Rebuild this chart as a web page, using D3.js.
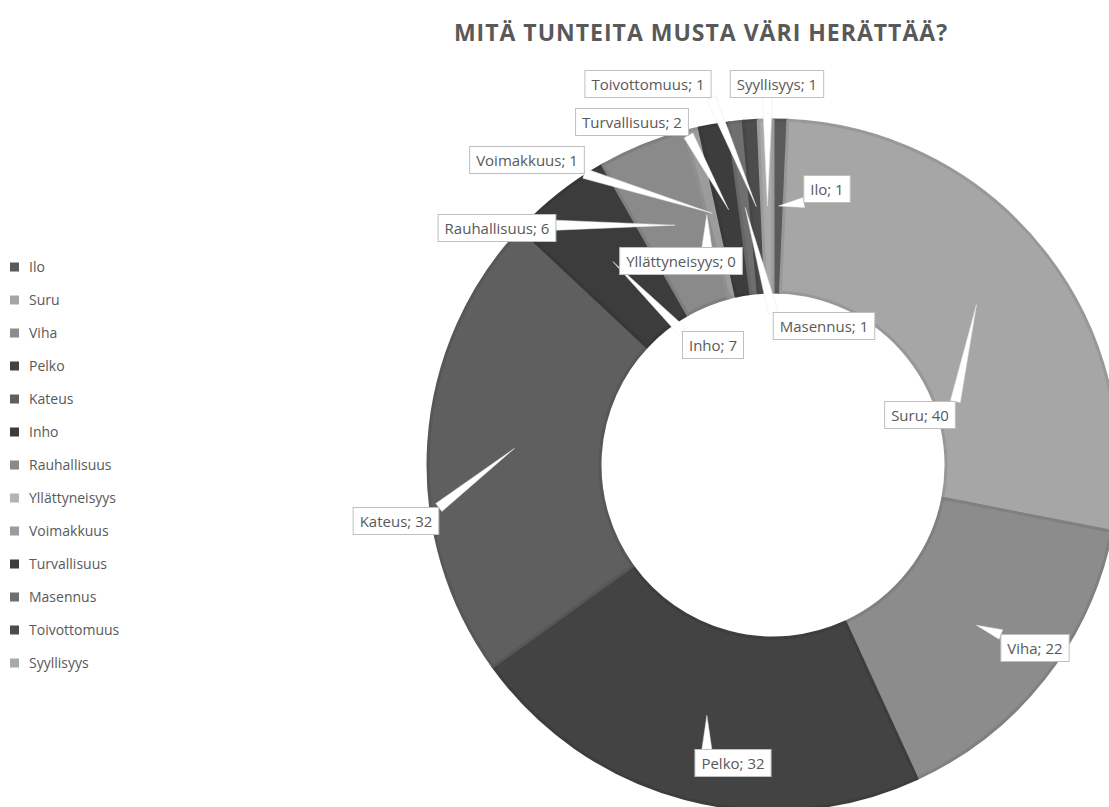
<!DOCTYPE html>
<html>
<head>
<meta charset="utf-8">
<script src="https://cdn.jsdelivr.net/npm/d3@7"></script>
<style>
  body { margin: 0; background: #fff; }
  svg { display: block; }
  text { font-family: "Open Sans", sans-serif; fill: #595959; }
</style>
</head>
<body>
<script>
var categories = ["Ilo", "Suru", "Viha", "Pelko", "Kateus", "Inho", "Rauhallisuus",
                  "Yllättyneisyys", "Voimakkuus", "Turvallisuus", "Masennus", "Toivottomuus", "Syyllisyys"];
var values = [1, 40, 22, 32, 32, 7, 6, 0, 1, 2, 1, 1, 1];
var colors = ["#5a5a5a", "#a6a6a6", "#8c8c8c", "#434343", "#5f5f5f", "#3c3c3c", "#8a8a8a",
              "#b4b4b4", "#9c9c9c", "#3d3d3d", "#6f6f6f", "#4c4c4c", "#a9a9a9"];
var title = "MITÄ TUNTEITA MUSTA VÄRI HERÄTTÄÄ?";

// label box centres (layout only)
var labelPos = {
  "Ilo": [827, 189], "Suru": [920, 415], "Viha": [1035, 648], "Pelko": [733, 763],
  "Kateus": [396, 521], "Inho": [713, 345], "Rauhallisuus": [497, 228],
  "Yllättyneisyys": [681, 261], "Voimakkuus": [527, 160], "Turvallisuus": [632, 122],
  "Masennus": [824, 326], "Toivottomuus": [648, 84], "Syyllisyys": [777, 84]
};

var width = 1109, height = 807;
var cx = 773, cy = 465, outerR = 345, innerR = 173;

var svg = d3.select("body").append("svg").attr("width", width).attr("height", height);

svg.append("text").attr("x", 701).attr("y", 41).attr("text-anchor", "middle")
  .style("font-weight", "bold").style("font-size", "23px").style("letter-spacing", "1px")
  .text(title);

var data = categories.map(function(c, i) { return {name: c, value: values[i], color: colors[i]}; });

var pie = d3.pie().sort(null).value(function(d) { return d.value; });
var arc = d3.arc().innerRadius(innerR).outerRadius(outerR);
var arcs = pie(data);

var g = svg.append("g").attr("transform", "translate(" + cx + "," + cy + ")");

// slices, with a slightly darker rim like the original bevel
g.selectAll("path.slice").data(arcs).enter().append("path")
  .attr("class", "slice")
  .attr("d", arc)
  .attr("fill", function(d) { return d.data.color; })
  .attr("stroke", function(d) { return d3.color(d.data.color).darker(0.25); })
  .attr("stroke-width", 3)
  .attr("stroke-linejoin", "round");

// labels: measure text first
var lab = svg.append("g");
var boxes = arcs.map(function(a) {
  var p = labelPos[a.data.name];
  var t = lab.append("text").attr("x", p[0]).attr("y", p[1] + 5.5)
    .attr("text-anchor", "middle").style("font-size", "15px")
    .text(a.data.name + "; " + a.data.value);
  var w = t.node().getComputedTextLength() + 13, h = 27;
  var c = arc.centroid(a);
  return {a: a, t: t, x: p[0] - w / 2, y: p[1] - h / 2, w: w, h: h, tip: [c[0] + cx, c[1] + cy]};
});

// leader wedges
var leaders = lab.insert("g", ":first-child");
boxes.forEach(function(b) {
  var px = Math.max(b.x, Math.min(b.x + b.w, b.tip[0]));
  var py = Math.max(b.y, Math.min(b.y + b.h, b.tip[1]));
  var dx = b.tip[0] - px, dy = b.tip[1] - py;
  var len = Math.sqrt(dx * dx + dy * dy) || 1;
  var nx = -dy / len * 5, ny = dx / len * 5;
  leaders.append("path")
    .attr("d", "M" + (px + nx) + "," + (py + ny) + "L" + b.tip[0] + "," + b.tip[1] + "L" + (px - nx) + "," + (py - ny) + "Z")
    .attr("fill", "#fff").attr("stroke", "#e6e6e6").attr("stroke-width", 0.5);
});

boxes.forEach(function(b) {
  lab.insert("rect", function() { return b.t.node(); })
    .attr("x", b.x).attr("y", b.y).attr("width", b.w).attr("height", b.h)
    .attr("fill", "#fff").attr("stroke", "#bfbfbf").attr("stroke-width", 1);
});

// legend
var legend = svg.append("g").selectAll("g").data(data).enter().append("g")
  .attr("transform", function(d, i) { return "translate(10," + (267 + i * 33) + ")"; });
legend.append("rect").attr("x", 0).attr("y", -4.5).attr("width", 9).attr("height", 9)
  .attr("fill", function(d) { return d.color; });
legend.append("text").attr("x", 19).attr("y", 5).style("font-size", "14px")
  .text(function(d) { return d.name; });
</script>
</body>
</html>
